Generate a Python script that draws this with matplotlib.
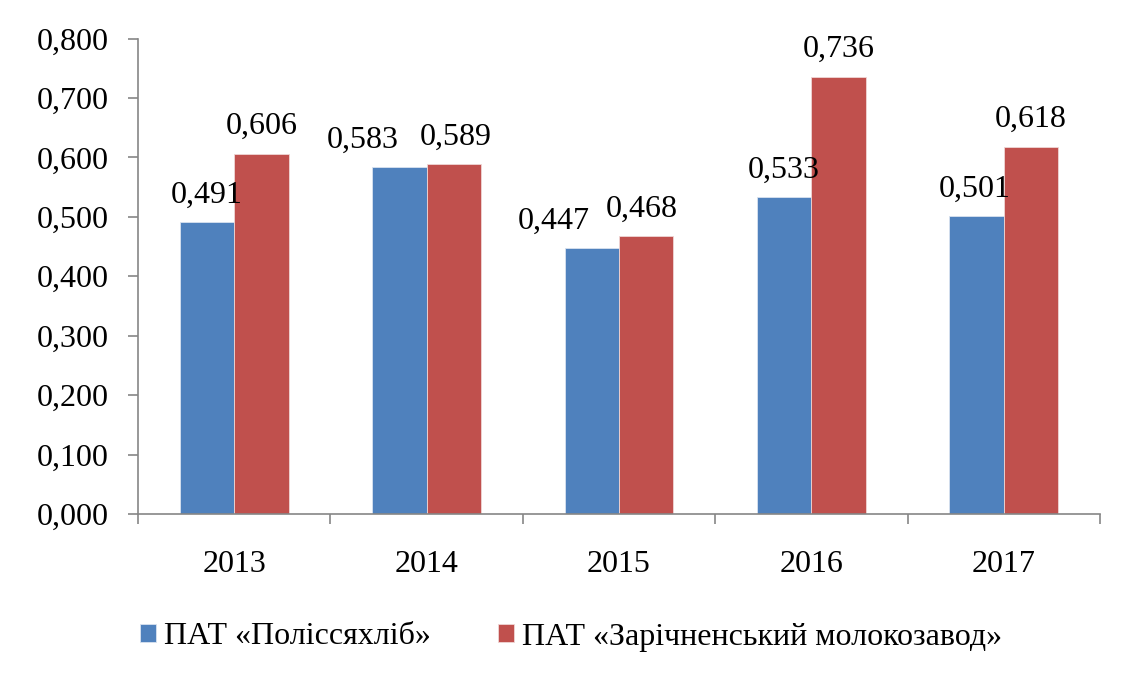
import numpy as np
import matplotlib
matplotlib.use('Agg')
import matplotlib.pyplot as plt
from matplotlib.ticker import FixedLocator

# Data
years = ['2013', '2014', '2015', '2016', '2017']
polissia = [0.491, 0.583, 0.447, 0.533, 0.501]
zarichne = [0.606, 0.589, 0.468, 0.736, 0.618]
series_names = ['ПАТ «Поліссяхліб»', 'ПАТ «Зарічненський молокозавод»']
y_ticks = [0.0, 0.1, 0.2, 0.3, 0.4, 0.5, 0.6, 0.7, 0.8]

# horizontal nudges (px) of the value labels so neighbours don't collide
nudge_blue = [0, -37, -38, 0, -2]
nudge_red = [0, 2, -4, 0, 0]

plt.rcParams['font.family'] = ['Liberation Serif', 'DejaVu Serif']
fs = 23
blue = '#4F81BD'
red = '#C0504D'
axis_grey = '#868686'

fig = plt.figure(figsize=(11.29, 6.76), dpi=100)
ax = fig.add_axes([138 / 1129, 1 - 514 / 676, (1100 - 138) / 1129, (514 - 38.5) / 676])

x = np.arange(len(years))
w = 0.283
b1 = ax.bar(x - w / 2, polissia, w, color=blue, edgecolor='#d9e2ef', linewidth=0.6,
            label=series_names[0])
b2 = ax.bar(x + w / 2, zarichne, w, color=red, edgecolor='#efd6d5', linewidth=0.6,
            label=series_names[1])

px = 72.0 / 100
for bars, vals, nudges in ((b1, polissia, nudge_blue), (b2, zarichne, nudge_red)):
    for rect, v, dx in zip(bars, vals, nudges):
        ax.annotate(('%.3f' % v).replace('.', ','),
                    (rect.get_x() + rect.get_width() / 2, v),
                    xytext=(dx * px, 9), textcoords='offset points',
                    ha='center', va='bottom', fontsize=fs)

ax.set_xlim(-0.5, len(years) - 0.5)
ax.set_ylim(0, 0.8)
ax.set_yticks(y_ticks)
ax.set_yticklabels([('%.3f' % t).replace('.', ',') for t in y_ticks], fontsize=fs)
ax.set_xticks(x)
ax.set_xticklabels(years, fontsize=fs)
ax.xaxis.set_minor_locator(FixedLocator(np.arange(-0.5, len(years), 1.0)))

ax.tick_params(axis='x', which='major', length=0, pad=26)
ax.tick_params(axis='x', which='minor', length=7, width=1.2, color=axis_grey)
ax.tick_params(axis='y', length=7, width=1.2, color=axis_grey, pad=14)

for s in ('top', 'right'):
    ax.spines[s].set_visible(False)
for s in ('left', 'bottom'):
    ax.spines[s].set_color(axis_grey)
    ax.spines[s].set_linewidth(1.2)

fig.legend(handles=[b1, b2], loc='center', bbox_to_anchor=(571 / 1129, 1 - 637 / 676),
           ncol=2, frameon=False, fontsize=fs, handlelength=0.5, handleheight=0.5,
           handletextpad=0.25, columnspacing=2.1, borderaxespad=0)

fig.savefig('out.png', dpi=100)
